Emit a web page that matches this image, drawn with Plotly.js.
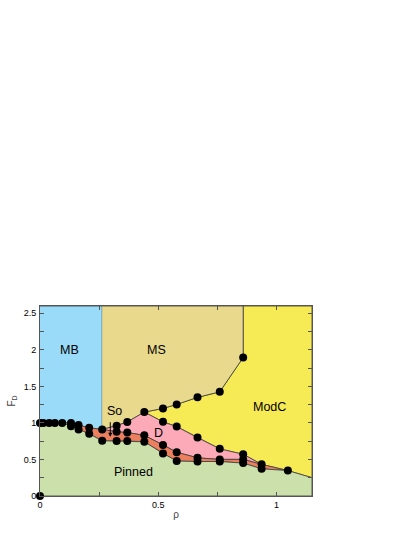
<!DOCTYPE html>
<html>
<head>
<meta charset="utf-8">
<script src="https://cdn.plot.ly/plotly-3.0.1.min.js"></script>
<style>
	html, body { margin: 0; padding: 0; background: #fff; }
	#graph { width: 415px; height: 537px; }
</style>
</head>
<body>
<div id="graph"></div>
<script>
// phase boundaries (rho, F_D)
const pinnedTopX = [0, 0.014, 0.039, 0.063, 0.094, 0.131, 0.163, 0.208, 0.263, 0.324, 0.369, 0.441, 0.520, 0.578, 0.666, 0.760, 0.859, 0.937, 1.048, 1.15];
const pinnedTopY = [1.0, 1.0, 1.0, 1.0, 1.0, 0.956, 0.911, 0.851, 0.755, 0.753, 0.753, 0.742, 0.583, 0.478, 0.472, 0.472, 0.450, 0.372, 0.348, 0.25];

const soTopX = [0.094, 0.131, 0.163, 0.208, 0.263, 0.324, 0.369, 0.441, 0.520, 0.578, 0.666, 0.760, 0.859, 0.937, 1.048];
const soTopY = [1.0, 1.0, 0.970, 0.933, 0.911, 0.879, 0.868, 0.830, 0.699, 0.599, 0.522, 0.501, 0.501, 0.433, 0.348];

const dTopX = [0.263, 0.324, 0.369, 0.441, 0.520, 0.578, 0.666, 0.760, 0.859, 0.937];
const dTopY = [0.911, 0.963, 1.013, 1.148, 1.015, 0.950, 0.799, 0.645, 0.571, 0.433];

const msBottomX = [0.441, 0.520, 0.578, 0.666, 0.760, 0.859, 0.859];
const msBottomY = [1.148, 1.198, 1.253, 1.350, 1.425, 1.895, 2.6];

// simulation points
const dotX = [0, 0, 0.014, 0.039, 0.063, 0.094, 0.131, 0.131, 0.163, 0.163, 0.208, 0.208, 0.263, 0.263,
	0.324, 0.324, 0.324, 0.369, 0.369, 0.369, 0.441, 0.441, 0.441,
	0.520, 0.520, 0.520, 0.520, 0.578, 0.578, 0.578, 0.578, 0.666, 0.666, 0.666, 0.666,
	0.760, 0.760, 0.760, 0.760, 0.859, 0.859, 0.859, 0.859, 0.937, 0.937, 1.048];
const dotY = [0, 1.0, 1.0, 1.0, 1.0, 1.0, 1.0, 0.956, 0.970, 0.911, 0.933, 0.851, 0.911, 0.755,
	0.963, 0.879, 0.753, 1.013, 0.868, 0.753, 1.148, 0.830, 0.742,
	1.198, 1.015, 0.699, 0.583, 1.253, 0.950, 0.599, 0.478, 1.350, 0.799, 0.522, 0.472,
	1.425, 0.645, 0.501, 0.472, 1.895, 0.571, 0.501, 0.450, 0.433, 0.372, 0.348];

const xMax = 1.15;
const yMax = 2.6;
const tickVals = [0, 0.25, 0.5, 0.75, 1, 1.25, 1.5, 1.75, 2, 2.25, 2.5];
const tickText = ['0', '', '0.5', '', '1', '', '1.5', '', '2', '', '2.5'];

const edge = '#3a3a3a';

function region(xs, ys, color) {
	return {
		x: xs, y: ys, mode: 'lines', fill: 'toself', fillcolor: color,
		line: {color: edge, width: 0.8}, hoverinfo: 'skip', showlegend: false
	};
}

// MB: left block above the pinned/So line
const nMB = pinnedTopX.indexOf(0.094);
const mbX = pinnedTopX.slice(0, nMB).concat(soTopX.slice(0, 5), [0.263, 0]);
const mbY = pinnedTopY.slice(0, nMB).concat(soTopY.slice(0, 5), [yMax, yMax]);

// MS: between MB and ModC
const nTri = dTopX.indexOf(0.441);
const msX = dTopX.slice(0, nTri).concat(msBottomX, [0.263]);
const msY = dTopY.slice(0, nTri).concat(msBottomY, [yMax]);

// ModC: everything right of MS / above D and So
const modcX = msBottomX.concat([xMax, xMax, 1.048], dTopX.slice(nTri).reverse());
const modcY = msBottomY.concat([yMax, 0.25, 0.348], dTopY.slice(nTri).reverse());

// D: between So top and D top
const dEnd = soTopX.indexOf(0.937);
const dStart = soTopX.indexOf(0.263);
const dX = dTopX.concat(soTopX.slice(dStart, dEnd + 1).reverse());
const dY = dTopY.concat(soTopY.slice(dStart, dEnd + 1).reverse());

// So: between pinned top and So top
const pStart = pinnedTopX.indexOf(0.094);
const pEnd = pinnedTopX.indexOf(1.048);
const soX = soTopX.concat(pinnedTopX.slice(pStart, pEnd + 1).reverse());
const soY = soTopY.concat(pinnedTopY.slice(pStart, pEnd + 1).reverse());

// Pinned: below everything
const pinX = pinnedTopX.concat([xMax, 0]);
const pinY = pinnedTopY.concat([0, 0]);

const traces = [
	region(modcX, modcY, '#f6ea55'),
	region(mbX, mbY, '#9bdbfa'),
	region(msX, msY, '#e9d98c'),
	region(dX, dY, '#fca9b8'),
	region(soX, soY, '#eb7f5e'),
	region(pinX, pinY, '#cbe0ab'),
	{
		x: dotX, y: dotY, mode: 'markers', cliponaxis: false,
		marker: {color: '#000', size: 8}, hoverinfo: 'skip', showlegend: false
	}
];

const lab = {family: 'Liberation Sans, Arial, sans-serif', size: 12.5, color: '#000'};
function label(text, x, y) {
	return {text: text, x: x, y: y, xref: 'x', yref: 'y', showarrow: false, font: lab};
}

const axisCommon = {
	showgrid: false, zeroline: false, showline: true, linecolor: '#555', linewidth: 1,
	mirror: 'ticks', ticks: 'inside', ticklen: 4, tickcolor: '#555',
	tickvals: tickVals, ticktext: tickText,
	tickfont: {family: 'Liberation Sans, Arial, sans-serif', size: 9, color: '#000'}
};

Plotly.newPlot('graph', traces, {
	width: 415,
	height: 537,
	margin: {l: 40, r: 103, t: 306, b: 41},
	paper_bgcolor: '#fff',
	plot_bgcolor: '#fff',
	xaxis: Object.assign({}, axisCommon, {
		range: [0, xMax],
		title: {text: 'ρ', font: {family: 'Liberation Sans, Arial, sans-serif', size: 10}, standoff: 2}
	}),
	yaxis: Object.assign({}, axisCommon, {
		range: [0, yMax],
		ticklabelstandoff: 1,
		title: {text: 'F<sub>D</sub>', font: {family: 'Liberation Sans, Arial, sans-serif', size: 10}, standoff: 6}
	}),
	annotations: [
		label('MB', 0.124, 2.0),
		label('MS', 0.493, 2.0),
		label('ModC', 0.969, 1.22),
		label('So', 0.314, 1.16),
		label('D', 0.503, 0.86),
		label('Pinned', 0.394, 0.33),
		{
			text: '', x: 0.297, y: 0.81, ax: 0.297, ay: 1.03, xref: 'x', yref: 'y',
			axref: 'x', ayref: 'y', showarrow: true, arrowhead: 2, arrowsize: 0.8,
			arrowwidth: 1, arrowcolor: '#000'
		}
	]
}, {staticPlot: true});
</script>
</body>
</html>
